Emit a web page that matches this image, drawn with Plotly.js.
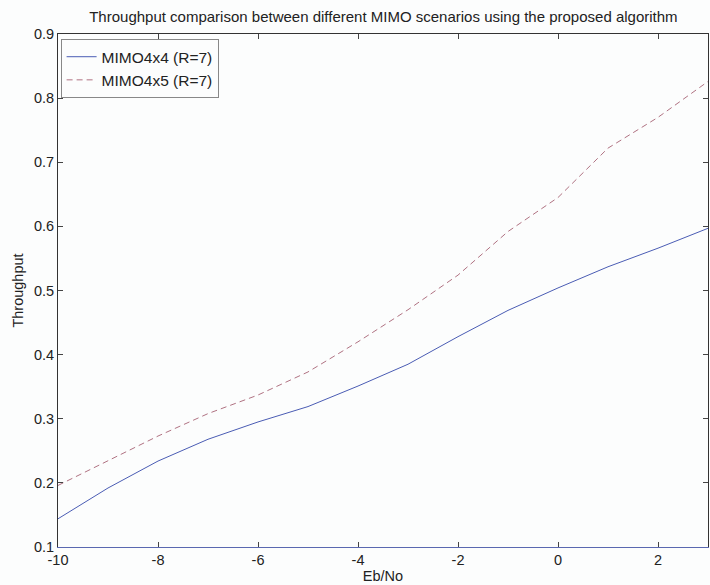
<!DOCTYPE html>
<html>
<head>
<meta charset="utf-8">
<script src="https://cdn.plot.ly/plotly-3.0.1.min.js"></script>
<style>html,body{margin:0;padding:0;background:#fcfdfd;}#chart{width:710px;height:585px;}</style>
</head>
<body>
<div id="chart"></div>
<script>
const ebno = [-10, -9, -8, -7, -6, -5, -4, -3, -2, -1, 0, 1, 2, 3];
const mimo4x4 = [0.144, 0.192, 0.234, 0.268, 0.295, 0.319, 0.351, 0.385, 0.428, 0.469, 0.504, 0.537, 0.566, 0.597];
const mimo4x5 = [0.196, 0.234, 0.273, 0.308, 0.337, 0.373, 0.420, 0.470, 0.524, 0.592, 0.645, 0.722, 0.770, 0.826];
const seriesNames = ['MIMO4x4 (R=7)', 'MIMO4x5 (R=7)'];
const xTicks = [-10, -8, -6, -4, -2, 0, 2];
const yTicks = [0.1, 0.2, 0.3, 0.4, 0.5, 0.6, 0.7, 0.8, 0.9];

const fam = 'Liberation Sans, Arial, sans-serif';
const font = {family: fam, size: 14.5, color: '#222'};
const traces = [
  {x: ebno, y: mimo4x4, name: seriesNames[0], mode: 'lines', line: {color: '#4a5cb4', width: 1}},
  {x: ebno, y: mimo4x5, name: seriesNames[1], mode: 'lines', line: {color: '#b07282', width: 1, dash: '6px,4px'}},
  {x: [ebno[0]], y: [mimo4x4[0]], xaxis: 'x2', yaxis: 'y2', mode: 'none', showlegend: false, hoverinfo: 'skip'}
];
const layout = {
  width: 710, height: 585,
  paper_bgcolor: '#fcfdfd', plot_bgcolor: '#fcfdfd',
  font: font,
  margin: {l: 58, r: 2, t: 34, b: 38},
  title: {text: 'Throughput comparison between different MIMO scenarios using the proposed algorithm', x: 0.54, xanchor: 'center', y: 0.971, yanchor: 'middle', font: {family: fam, size: 15, color: '#222'}},
  xaxis: {range: [-10, 3], tickvals: xTicks, ticktext: xTicks.map(String), ticks: 'inside', ticklen: 5, tickcolor: '#444',
          showline: true, linecolor: '#5a68b0', linewidth: 1, showgrid: false, zeroline: false,
          title: {text: 'Eb/No', font: {family: fam, size: 14.5, color: '#222'}, standoff: 2}},
  yaxis: {range: [0.1, 0.9], tickvals: yTicks, ticktext: yTicks.map(v => v.toFixed(1)), ticks: 'inside', ticklen: 5, tickcolor: '#444',
          showline: true, linecolor: '#333', linewidth: 1, showgrid: false, zeroline: false,
          title: {text: 'Throughput', font: {family: fam, size: 14.5, color: '#222'}, standoff: 6}},
  xaxis2: {overlaying: 'x', side: 'top', range: [-10, 3], tickvals: xTicks, showticklabels: false, ticks: 'inside', ticklen: 5, tickcolor: '#444',
           showline: true, linecolor: '#333', linewidth: 1, showgrid: false, zeroline: false},
  yaxis2: {overlaying: 'y', side: 'right', range: [0.1, 0.9], tickvals: yTicks, showticklabels: false, ticks: 'inside', ticklen: 5, tickcolor: '#444',
           showline: true, linecolor: '#333', linewidth: 1, showgrid: false, zeroline: false},
  showlegend: true,
  legend: {x: 0.004, y: 0.99, xanchor: 'left', yanchor: 'top', bgcolor: '#fcfdfd', bordercolor: '#888', borderwidth: 1,
           font: {family: fam, size: 15.5, color: '#222'}, tracegroupgap: 0, itemwidth: 30}
};
Plotly.newPlot('chart', traces, layout, {displayModeBar: false, staticPlot: true});
</script>
</body>
</html>
